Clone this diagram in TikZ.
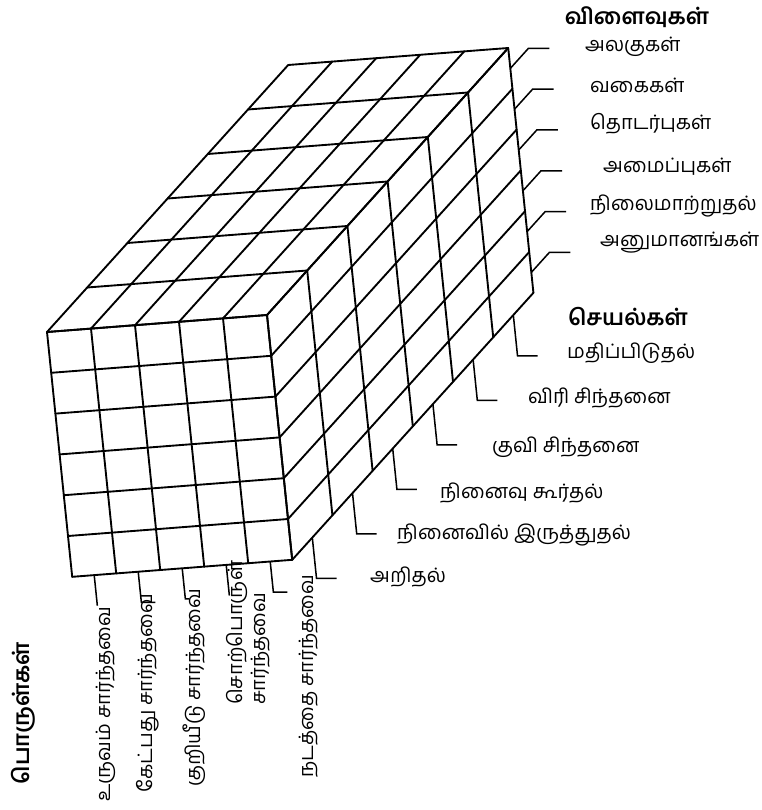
\documentclass[tikz,border=0pt]{standalone}
\usepackage{fontspec}
\newfontfamily\tamil[Script=Tamil]{Hind Madurai}
\usetikzlibrary{positioning}

\begin{document}
\begin{tikzpicture}[
  x=0.03cm, y=-0.03cm,
  every node/.style={font=\tamil\fontsize{17}{20}\selectfont, inner sep=0pt},
  headlabel/.style={font=\tamil\bfseries\fontsize{19}{22}\selectfont},
  sidelabel/.style={rotate=90, anchor=west, align=left},
  gridline/.style={line width=1.6pt, line cap=round},
  leader/.style={line width=1.3pt}
]
\useasboundingbox (0,0) rectangle (762,810);

% Cube: x = contents (5), y = products (6, downwards), z = operations (6, depth)
\begin{scope}[shift={(47,332)}, x={(1.32cm,0.102cm)}, y={(0.126cm,-1.224cm)}, z={(1.206cm,1.335cm)}]
  % front face
  \foreach \i in {0,...,5} \draw[gridline] (\i,0,0) -- (\i,6,0);
  \foreach \j in {0,...,6} \draw[gridline] (0,\j,0) -- (5,\j,0);
  % top face
  \foreach \i in {0,...,5} \draw[gridline] (\i,0,0) -- (\i,0,6);
  \foreach \k in {0,...,6} \draw[gridline] (0,0,\k) -- (5,0,\k);
  % right face
  \foreach \j in {0,...,6} \draw[gridline] (5,\j,0) -- (5,\j,6);
  \foreach \k in {0,...,6} \draw[gridline] (5,0,\k) -- (5,6,\k);

  % leader anchors on the cube
  \foreach \j in {0,...,5} {
    \coordinate (res\j) at (5,\j+0.5,6);
    \coordinate (res\j k) at (5,\j+0.5,6.45);
  }
  \foreach \k in {0,...,5} {
    \coordinate (op\k) at (5,6,\k+0.5);
    \coordinate (op\k k) at (5,7,\k+0.5);
  }
  \foreach \i in {0,...,4} {
    \coordinate (ct\i) at (\i+0.5,6,0);
    \coordinate (ct\i k) at (\i+0.5,6.75,0);
  }
\end{scope}

% Leaders
\foreach \j in {0,...,5}
  \draw[leader] (res\j) -- (res\j k) -- ++(21,0) coordinate (res\j e);
\foreach \k in {0,...,5}
  \draw[leader] (op\k) -- (op\k k) -- ++(20,0) coordinate (op\k e);
\foreach \i/\h in {0/0,1/14,2/4,3/0,4/14}
  \draw[leader] (ct\i) -- (ct\i k) -- ++(\h,0) coordinate (ct\i e);

% Products
\node[headlabel] (resH) at (637,17) {விளைவுகள்};
\node[anchor=west] (res0L) at (585,47) {அலகுகள்};
\node[anchor=west] (res1L) at (590,85) {வகைகள்};
\node[anchor=west] (res2L) at (590,124) {தொடர்புகள்};
\node[anchor=west] (res3L) at (603,167) {அமைப்புகள்};
\node[anchor=west] (res4L) at (590,206) {நிலைமாற்றுதல்};
\node[anchor=west] (res5L) at (600,243) {அனுமானங்கள்};

% Operations
\node[headlabel] (opH) at (628,317) {செயல்கள்};
\node[anchor=west] (op5L) at (567,353) {மதிப்பிடுதல்};
\node[anchor=west] (op4L) at (528,398) {விரி சிந்தனை};
\node[anchor=west] (op3L) at (492,447) {குவி சிந்தனை};
\node[anchor=west] (op2L) at (440,493) {நினைவு கூர்தல்};
\node[anchor=west] (op1L) at (397,535) {நினைவில் இருத்துதல்};
\node[anchor=west] (op0L) at (370,577) {அறிதல்};

% Contents
\node[headlabel, rotate=90] (ctH) at (23,713) {பொருள்கள்};
\node[sidelabel] (ct0L) at (106,802) {உருவம் சார்ந்தவை};
\node[sidelabel] (ct1L) at (148,793) {கேட்பது சார்ந்தவை};
\node[sidelabel] (ct2L) at (194,787) {குறியீடு சார்ந்தவை};
\node[sidelabel] (ct3L) at (248,705) {சொற்பொருள்\\சார்ந்தவை};
\node[sidelabel] (ct4L) at (309,778) {நடத்தை சார்ந்தவை};
\end{tikzpicture}
\end{document}
